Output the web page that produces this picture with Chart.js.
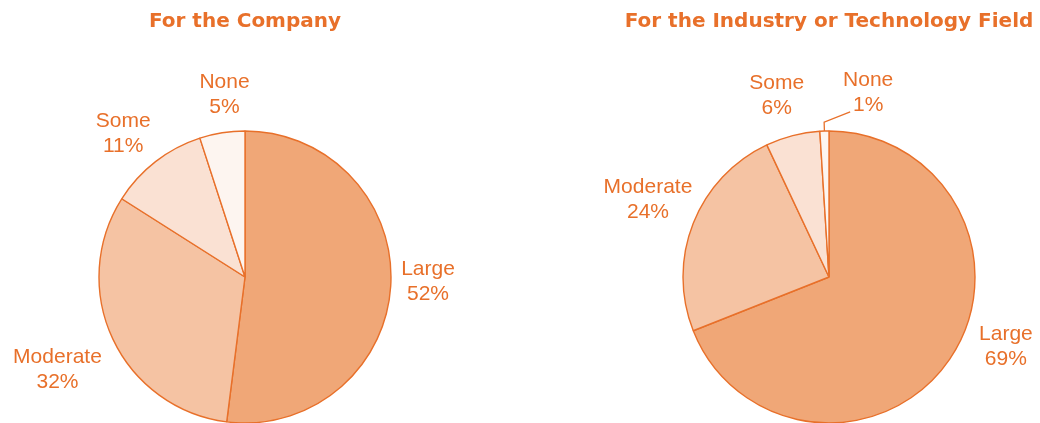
<!DOCTYPE html>
<html>
<head>
<meta charset="utf-8">
<script src="https://cdn.jsdelivr.net/npm/chart.js@4"></script>
<style>
  html, body { margin: 0; padding: 0; background: #ffffff; }
  #wrap { position: relative; width: 1040px; height: 423px; overflow: hidden; }
  .box { position: absolute; top: 0; height: 423px; }
  #leftBox { left: 0; width: 490px; }
  #rightBox { left: 560px; width: 480px; }
</style>
</head>
<body>
<div id="wrap">
  <div class="box" id="leftBox"><canvas id="c1"></canvas></div>
  <div class="box" id="rightBox"><canvas id="c2"></canvas></div>
</div>
<script>
// ---- data ----
const categories = ['Large', 'Moderate', 'Some', 'None'];
const companyValues = [52, 32, 11, 5];
const industryValues = [69, 24, 6, 1];
const companyTitle = 'For the Company';
const industryTitle = 'For the Industry or Technology Field';

// ---- style ----
const ORANGE = '#E8702A';
const sliceColors = ['#F0A777', '#F5C3A3', '#FAE1D3', '#FDF5F0'];
// label placement: [angle in degrees (0 = right, clockwise), distance as multiple of radius]
const companyLabelPlace = [[1.4, 1.254], [153.6, 1.434], [-130.3, 1.29], [-96.4, 1.257]];
const industryLabelPlace = [[21.6, 1.303], [-157, 1.347], [-106.1, 1.29], [-78.0, 1.29]];
const industryLeader = [false, false, false, true];

const labelPlugin = {
  id: 'outLabels',
  afterDatasetsDraw(chart, args, opts) {
    const ctx = chart.ctx;
    const meta = chart.getDatasetMeta(0);
    const vals = chart.data.datasets[0].data;
    ctx.save();
    ctx.fillStyle = ORANGE;
    ctx.strokeStyle = ORANGE;
    ctx.font = '21px "Liberation Sans", Arial, sans-serif';
    ctx.textAlign = 'center';
    ctx.textBaseline = 'middle';
    meta.data.forEach((arc, i) => {
      const p = arc.getProps(['x', 'y', 'outerRadius', 'startAngle', 'endAngle'], true);
      const place = opts.place[i];
      const a = place[0] * Math.PI / 180;
      const lx = p.x + Math.cos(a) * p.outerRadius * place[1];
      const ly = p.y + Math.sin(a) * p.outerRadius * place[1];
      ctx.fillText(chart.data.labels[i], lx, ly - 12.5);
      ctx.fillText(vals[i] + '%', lx, ly + 12.5);
      if (opts.leader && opts.leader[i]) {
        const mid = (p.startAngle + p.endAngle) / 2;
        const sx = p.x + Math.cos(mid) * p.outerRadius;
        const sy = p.y + Math.sin(mid) * p.outerRadius;
        const ex = p.x + Math.cos(mid) * (p.outerRadius + 9);
        const ey = p.y + Math.sin(mid) * (p.outerRadius + 9);
        ctx.lineWidth = 1.3;
        ctx.beginPath();
        ctx.moveTo(sx, sy);
        ctx.lineTo(ex, ey);
        ctx.lineTo(lx - 18, ly + 19);
        ctx.stroke();
      }
    });
    ctx.restore();
  }
};

function makePie(id, title, values, place, leader, padLeft) {
  return new Chart(document.getElementById(id), {
    type: 'pie',
    data: {
      labels: categories,
      datasets: [{
        data: values,
        backgroundColor: sliceColors,
        borderColor: ORANGE,
        borderWidth: 1.4,
        borderAlign: 'center'
      }]
    },
    options: {
      responsive: true,
      maintainAspectRatio: false,
      animation: false,
      events: [],
      radius: 146,
      layout: { padding: { left: padLeft, right: 0, top: 0, bottom: 0 } },
      plugins: {
        legend: { display: false },
        tooltip: { enabled: false },
        title: {
          display: true,
          text: title,
          color: ORANGE,
          font: { family: '"DejaVu Sans", sans-serif', size: 20, weight: 'bold', lineHeight: 1.2 },
          padding: { top: 10, bottom: 97 }
        },
        outLabels: { place: place, leader: leader }
      }
    },
    plugins: [labelPlugin]
  });
}

makePie('c1', companyTitle, companyValues, companyLabelPlace, null, 0);
makePie('c2', industryTitle, industryValues, industryLabelPlace, industryLeader, 58);
</script>
</body>
</html>
